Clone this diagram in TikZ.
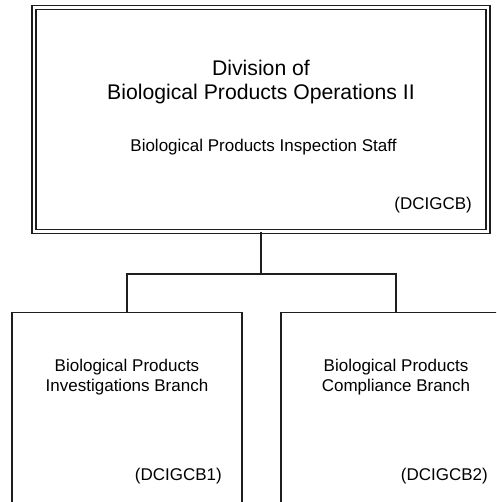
\documentclass[tikz,border=0pt]{standalone}
\usepackage{fontspec}
\setmainfont{Liberation Sans}
\definecolor{linegray}{HTML}{1E1E1E}
\tikzset{
  unitbox/.style={draw=linegray, line width=1.4pt, minimum width=230pt,
    minimum height=230pt, inner sep=0pt},
  headbox/.style={draw=linegray, line width=1.5pt, double, double distance=2.5pt,
    minimum width=454pt, minimum height=224pt, inner sep=0pt},
  bigtext/.style={font=\fontsize{21.2}{24}\selectfont, align=center, inner sep=0pt},
  smalltext/.style={font=\fontsize{17}{20}\selectfont, align=center, inner sep=0pt},
  codetext/.style={font=\fontsize{17}{20}\selectfont, inner sep=0pt, anchor=base east},
  link/.style={draw=linegray, line width=1.4pt}
}
\begin{document}
\begin{tikzpicture}[x=1pt, y=-1pt]
  \clip (0,0) rectangle (496,502);
  % head office
  \node[headbox] (div) at (261,119.5) {};
  \node[bigtext] (divname) at (261,82) {Division of\\Biological Products Operations II};
  \node[smalltext, anchor=base] (staff) at (263.5,152) {Biological Products Inspection Staff};
  \node[codetext] (divcode) at (472,210) {(DCIGCB)};
  % branches
  \node[unitbox, anchor=north] (invb) at (127,312) {};
  \node[unitbox, anchor=north] (compb) at (396,312) {};
  \node[smalltext] (invname) at (127,377) {Biological Products\\Investigations Branch};
  \node[smalltext] (compname) at (396,377) {Biological Products\\Compliance Branch};
  \node[codetext] (invcode) at (222,480) {(DCIGCB1)};
  \node[codetext] (compcode) at (488,480) {(DCIGCB2)};
  % connectors
  \coordinate (junc) at (261,274);
  \draw[link] (div.south) -- (junc);
  \draw[link] (invb.north) |- (junc) -| (compb.north);
\end{tikzpicture}
\end{document}
